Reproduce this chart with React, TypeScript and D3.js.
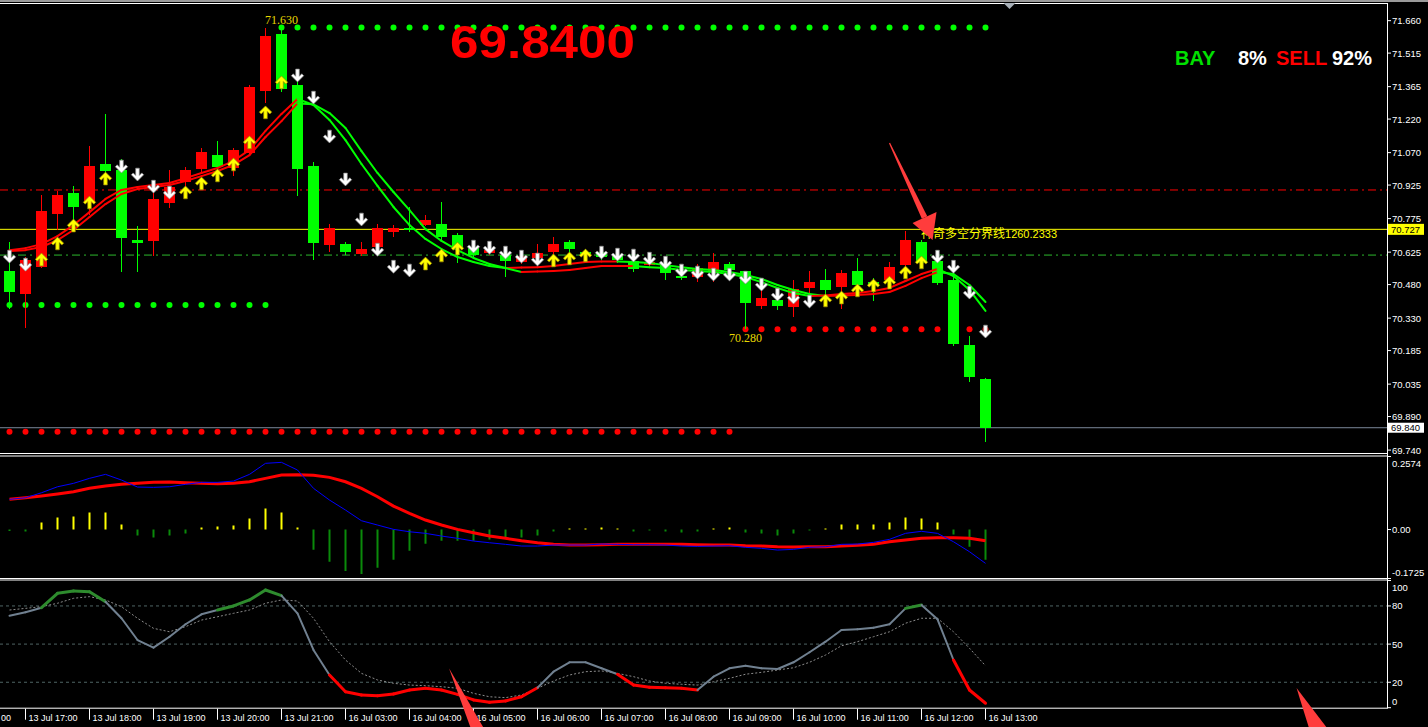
import * as d3 from "d3";

// ---- price bars (15 min) ----
const opens = [70.541, 70.438, 70.559, 70.796, 70.889, 70.845, 71.019, 70.992, 70.679, 70.675, 70.845, 70.939, 70.997, 71.059, 71.001, 71.068, 71.346, 71.601, 71.372, 71.01, 70.657, 70.661, 70.617, 70.648, 70.715, 70.733, 70.746, 70.751, 70.702, 70.643, 70.621, 70.612, 70.581, 70.599, 70.626, 70.67, 70.626, 70.626, 70.608, 70.585, 70.568, 70.568, 70.518, 70.514, 70.536, 70.572, 70.541, 70.384, 70.411, 70.38, 70.465, 70.5, 70.469, 70.541, 70.491, 70.5, 70.568, 70.67, 70.585, 70.5, 70.21, 70.058];
const highs = [70.67, 70.603, 70.881, 70.898, 70.921, 71.1, 71.243, 71.041, 70.742, 70.939, 70.992, 71.006, 71.091, 71.122, 71.091, 71.372, 71.627, 71.63, 71.408, 71.028, 70.751, 70.67, 70.67, 70.751, 70.746, 70.827, 70.791, 70.849, 70.711, 70.657, 70.648, 70.639, 70.621, 70.661, 70.693, 70.679, 70.639, 70.634, 70.626, 70.599, 70.594, 70.581, 70.559, 70.572, 70.621, 70.581, 70.541, 70.487, 70.456, 70.5, 70.541, 70.55, 70.545, 70.599, 70.509, 70.581, 70.719, 70.679, 70.634, 70.518, 70.25, 70.062];
const lows = [70.371, 70.286, 70.554, 70.724, 70.724, 70.791, 70.979, 70.536, 70.536, 70.608, 70.822, 70.916, 70.979, 70.992, 70.966, 71.059, 71.292, 71.341, 70.876, 70.59, 70.626, 70.612, 70.608, 70.639, 70.693, 70.715, 70.742, 70.675, 70.576, 70.599, 70.612, 70.514, 70.572, 70.576, 70.608, 70.621, 70.599, 70.59, 70.576, 70.536, 70.554, 70.5, 70.5, 70.491, 70.491, 70.5, 70.28, 70.371, 70.366, 70.335, 70.411, 70.42, 70.371, 70.456, 70.406, 70.482, 70.554, 70.563, 70.478, 70.205, 70.044, 69.776];
const closes = [70.447, 70.59, 70.809, 70.881, 70.827, 71.01, 70.988, 70.688, 70.666, 70.863, 70.916, 70.992, 71.073, 71.006, 71.082, 71.364, 71.592, 71.355, 70.997, 70.666, 70.733, 70.626, 70.639, 70.733, 70.733, 70.728, 70.769, 70.693, 70.643, 70.612, 70.634, 70.585, 70.608, 70.621, 70.661, 70.639, 70.617, 70.603, 70.59, 70.55, 70.581, 70.532, 70.509, 70.554, 70.581, 70.545, 70.397, 70.42, 70.384, 70.46, 70.491, 70.456, 70.532, 70.478, 70.473, 70.559, 70.679, 70.576, 70.487, 70.214, 70.067, 69.84];

// two smoothed averages
const maFast = [70.634, 70.643, 70.661, 70.697, 70.746, 70.804, 70.863, 70.903, 70.916, 70.925, 70.934, 70.956, 70.979, 71.001, 71.033, 71.082, 71.167, 71.243, 71.31, 71.283, 71.216, 71.126, 71.019, 70.921, 70.827, 70.746, 70.684, 70.639, 70.603, 70.581, 70.563, 70.554, 70.536, 70.539, 70.541, 70.545, 70.554, 70.563, 70.563, 70.563, 70.558, 70.554, 70.545, 70.541, 70.536, 70.527, 70.514, 70.491, 70.465, 70.442, 70.429, 70.431, 70.438, 70.442, 70.451, 70.465, 70.496, 70.527, 70.55, 70.518, 70.456, 70.362];
const maSlow = [70.63, 70.634, 70.648, 70.679, 70.724, 70.782, 70.84, 70.885, 70.907, 70.916, 70.925, 70.943, 70.965, 70.988, 71.015, 71.059, 71.14, 71.211, 71.29, 71.286, 71.247, 71.18, 71.077, 70.979, 70.894, 70.813, 70.728, 70.675, 70.634, 70.599, 70.572, 70.554, 70.556, 70.558, 70.563, 70.572, 70.581, 70.583, 70.583, 70.581, 70.576, 70.567, 70.558, 70.55, 70.545, 70.536, 70.523, 70.505, 70.478, 70.456, 70.438, 70.429, 70.431, 70.433, 70.438, 70.447, 70.474, 70.509, 70.536, 70.527, 70.478, 70.402];

// signal arrows: [bar, price]
const upArrows: [number, number][] = [[2, 70.594], [3, 70.666], [4, 70.746], [5, 70.849], [6, 70.956], [11, 70.894], [12, 70.934], [13, 70.97], [14, 71.019], [15, 71.118], [16, 71.252], [17, 71.386], [26, 70.576], [27, 70.612], [28, 70.643], [34, 70.59], [35, 70.599], [36, 70.612], [51, 70.411], [52, 70.424], [53, 70.456], [54, 70.478], [55, 70.491], [56, 70.536], [57, 70.581]];
const downArrows: [number, number][] = [[0, 70.603], [1, 70.567], [7, 71.006], [8, 70.97], [9, 70.916], [10, 70.889], [18, 71.413], [19, 71.314], [20, 71.14], [21, 70.948], [22, 70.769], [23, 70.634], [24, 70.558], [25, 70.541], [29, 70.648], [30, 70.643], [31, 70.621], [32, 70.603], [33, 70.59], [37, 70.621], [38, 70.612], [39, 70.608], [40, 70.594], [41, 70.576], [42, 70.541], [43, 70.532], [44, 70.523], [45, 70.523], [46, 70.509], [47, 70.478], [48, 70.433], [49, 70.42], [50, 70.402], [58, 70.603], [59, 70.558], [60, 70.442], [61, 70.268]];

// dotted support / resistance rows
const dotRows = [
  { from: 17, to: 61, price: 71.63, color: "#00ff00" },
  { from: 0, to: 16, price: 70.389, color: "#00ff00" },
  { from: 0, to: 45, price: 69.822, color: "#ff0000" },
  { from: 46, to: 61, price: 70.28, color: "#ff0000" },
];

const priceTicks = [71.66, 71.515, 71.365, 71.22, 71.07, 70.925, 70.775, 70.625, 70.48, 70.33, 70.185, 70.035, 69.89, 69.74];
const redLevel = 70.903;
const greenLevel = 70.612;
const boundaryLevel = 70.727;
const lastPrice = 69.84;

// MACD
const macdLine = [0.1064, 0.112, 0.1297, 0.1508, 0.1628, 0.1804, 0.1945, 0.1744, 0.1498, 0.1487, 0.1508, 0.1593, 0.1663, 0.1663, 0.1709, 0.1945, 0.2333, 0.2368, 0.2097, 0.1452, 0.1039, 0.0687, 0.031, 0.0159, 0.0007, -0.0078, -0.0134, -0.0229, -0.031, -0.0405, -0.0465, -0.0521, -0.0581, -0.0581, -0.0546, -0.0546, -0.0546, -0.0511, -0.0521, -0.0536, -0.0536, -0.0546, -0.0581, -0.0592, -0.0581, -0.0571, -0.0627, -0.0662, -0.0722, -0.0698, -0.0627, -0.0606, -0.0521, -0.0511, -0.0451, -0.0345, -0.0134, -0.0063, -0.0134, -0.043, -0.0782, -0.1191];
const signalLine = [0.1064, 0.112, 0.118, 0.1251, 0.1332, 0.1452, 0.1533, 0.1593, 0.1628, 0.1663, 0.1674, 0.1649, 0.1628, 0.1614, 0.1628, 0.1684, 0.1804, 0.192, 0.1931, 0.191, 0.1839, 0.1684, 0.1452, 0.1156, 0.0828, 0.0571, 0.0335, 0.0159, 0.0007, -0.0113, -0.0229, -0.031, -0.0395, -0.0465, -0.0521, -0.0546, -0.0546, -0.0536, -0.0521, -0.0521, -0.0521, -0.0521, -0.0521, -0.0536, -0.0546, -0.0546, -0.0571, -0.0581, -0.0606, -0.0617, -0.0606, -0.0606, -0.0581, -0.0557, -0.0521, -0.043, -0.037, -0.031, -0.0289, -0.0289, -0.031, -0.0395];
const macdHist = [-0.0053, -0.0071, 0.0249, 0.0426, 0.0462, 0.0604, 0.0604, 0.0178, -0.0213, -0.0284, -0.0213, -0.0142, 0.0071, 0.0107, 0.0142, 0.0391, 0.0746, 0.0604, 0.0071, -0.071, -0.1137, -0.1457, -0.1563, -0.135, -0.1066, -0.0746, -0.0497, -0.0391, -0.0391, -0.0391, -0.0355, -0.032, -0.0284, -0.0213, -0.0071, 0.0036, 0.0036, 0.0071, 0.0036, -0.0071, -0.0036, -0.0071, -0.0107, -0.0071, 0.0036, 0.0071, -0.0107, -0.0142, -0.0213, -0.0142, -0.0036, 0.0036, 0.0178, 0.0178, 0.0178, 0.0249, 0.0426, 0.0391, 0.0249, -0.0178, -0.0604, -0.1066];
const macdTicks = [0.2574, 0, -0.1725];
const macdTickLabels = ["0.2574", "0.00", "-0.1725"];

// Stochastic
const stochMain = [72.3, 75, 78.6, 89.9, 91.7, 91.2, 83.3, 70.3, 53.2, 47.2, 55.8, 65.6, 73.4, 76.8, 80, 84.7, 92.5, 88.1, 74.2, 45.4, 25.7, 12.6, 10, 9.4, 10.8, 13.9, 15.3, 13.9, 10.5, 6.1, 4.2, 5.3, 8.6, 15.7, 28.3, 35.7, 35.7, 31, 26.3, 17.8, 16, 15.7, 15.3, 13.9, 24.4, 31, 33, 31, 30.4, 35.7, 43.6, 51.9, 61.1, 61.6, 62.9, 65.6, 78.1, 80.7, 69.5, 37.5, 13.9, 3.5];
const stochSignal = [76.8, 78.1, 79.4, 82.1, 86, 87.3, 84.7, 79.4, 70.3, 62.4, 59.7, 63.7, 68.9, 71.5, 74.2, 76.8, 82.1, 84.7, 83.9, 70.3, 51.9, 37.5, 27, 21.8, 19.2, 17.8, 17.3, 16.5, 15.3, 11.3, 8.6, 7.9, 10, 15.3, 21, 25.7, 28.3, 28.9, 27, 24.4, 21, 19.2, 18.4, 17.8, 20.4, 23.1, 26.3, 27.8, 29.6, 31.4, 35.7, 41.4, 48.7, 51.9, 55.8, 59.7, 66.4, 70.3, 70.3, 59.7, 46.7, 33];
const stochZone = "nngggggnnnnnngggggnnrrrrrrrrrrrrrrnnnnrrrrrrnnnnnnnnnnnnggnrrr";
const stochLevels = [80, 50, 20];
const stochTicks = [100, 80, 50, 20, 0];

// time axis (the first label is only partly on screen: its tail "00" shows)
const timeBars = [1, 5, 9, 13, 17, 21, 25, 29, 33, 37, 41, 45, 49, 53, 57, 61];
const timeLabels = ["13 Jul 17:00", "13 Jul 18:00", "13 Jul 19:00", "13 Jul 20:00", "13 Jul 21:00", "16 Jul 03:00", "16 Jul 04:00", "16 Jul 05:00", "16 Jul 06:00", "16 Jul 07:00", "16 Jul 08:00", "16 Jul 09:00", "16 Jul 10:00", "16 Jul 11:00", "16 Jul 12:00", "16 Jul 13:00"];
const cutLabelTail = "00";

const W = 1428;
const H = 727;
const RIGHT = 1387;
const MAIN = { top: 3, bottom: 453 };
const MACD = { top: 456.5, bottom: 578.5 };
const STO = { top: 580.5, bottom: 707.7 };
const UP = "#ff0000";
const DN = "#00ff00";
const FONT = "Liberation Sans, Arial, sans-serif";

const ARROW = "M-1.8,-6.8 L1.8,-6.8 L1.8,0.4 L4.3,-2.1 L6.2,-0.2 L0,6 L-6.2,-0.2 L-4.3,-2.1 L-1.8,0.4 Z";

export default function App() {
  const x = d3.scaleLinear().domain([0, 61]).range([9.5, 985.5]);
  const yP = d3.scaleLinear().domain([69.727, 71.739]).range([MAIN.bottom, MAIN.top]);
  const yM = d3.scaleLinear().domain([-0.1725, 0.2574]).range([MACD.bottom, MACD.top]);
  const yS = d3.scaleLinear().domain([0, 100]).range([STO.bottom, STO.top]);

  const maSegs = (vals: number[], key: string) =>
    vals.slice(1).map((v, k) => (
      <line key={key + k} x1={x(k)} y1={yP(vals[k])} x2={x(k + 1)} y2={yP(v)}
        stroke={v >= vals[k] ? UP : DN} strokeWidth={2} strokeLinecap="round" />
    ));

  const macdPath = (vals: number[]) =>
    d3.line<number>().x((_, i) => x(i)).y((v) => yM(v))(vals) || "";
  const sigPath = d3.line<number>().x((_, i) => x(i)).y((v) => yS(v))(stochSignal) || "";

  // annotation arrow in the price pane (bar, price)
  const tail = [x(55), yP(71.113)];
  const hl = [x(56.44), yP(70.755)];
  const hr = [x(57.94), yP(70.805)];
  const tip = [x(57.69), yP(70.679)];
  const bm = [(hl[0] + hr[0]) / 2, (hl[1] + hr[1]) / 2];
  const dx = bm[0] - tail[0], dy = bm[1] - tail[1];
  const len = Math.hypot(dx, dy);
  const nx = -dy / len, ny = dx / len;
  const shaft = [
    [tail[0] - nx * 0.6, tail[1] - ny * 0.6],
    [tail[0] + nx * 0.6, tail[1] + ny * 0.6],
    [bm[0] + nx * 3, bm[1] + ny * 3],
    [bm[0] - nx * 3, bm[1] - ny * 3],
  ];
  const stoAnnots = [
    [[27.47, 31], [28.8, -15.2], [29.6, -15.2]],
    [[80.44, 15.5], [81.2, -15.2], [82.3, -15.2]],
  ];

  const clampLabel = (y: number, top: number, bottom: number) => Math.min(Math.max(y, top + 7), bottom - 6);

  return (
    <svg width={W} height={H} style={{ position: "fixed", left: 0, top: 0, display: "block" }} fontFamily={FONT}>
      <defs>
        <clipPath id="mainClip"><rect x={0} y={MAIN.top} width={RIGHT} height={MAIN.bottom - MAIN.top} /></clipPath>
        <clipPath id="macdClip"><rect x={0} y={MACD.top} width={RIGHT} height={MACD.bottom - MACD.top} /></clipPath>
        <clipPath id="stoClip"><rect x={0} y={STO.top} width={RIGHT} height={STO.bottom - STO.top} /></clipPath>
      </defs>
      <rect x={0} y={0} width={W} height={H} fill="#000" />

      {/* frames */}
      <line x1={0} x2={W} y1={1} y2={1} stroke="#9a9a9a" strokeWidth={2} />
      <line x1={0} x2={RIGHT} y1={3.5} y2={3.5} stroke="#fff" />
      <line x1={0} x2={RIGHT} y1={MAIN.bottom + 0.5} y2={MAIN.bottom + 0.5} stroke="#fff" />
      <line x1={0} x2={RIGHT} y1={MACD.top - 0.5} y2={MACD.top - 0.5} stroke="#fff" />
      <line x1={0} x2={RIGHT} y1={MACD.bottom} y2={MACD.bottom} stroke="#fff" />
      <line x1={0} x2={RIGHT} y1={STO.top - 0.5} y2={STO.top - 0.5} stroke="#fff" />
      <line x1={0} x2={RIGHT} y1={STO.bottom + 0.5} y2={STO.bottom + 0.5} stroke="#fff" />
      <line x1={RIGHT + 0.5} x2={RIGHT + 0.5} y1={3} y2={STO.bottom + 1} stroke="#fff" />
      <path d={`M${x(62.5) - 6},3 L${x(62.5) + 6},3 L${x(62.5)},9 Z`} fill="#a8b0b8" />

      {/* ---- price pane ---- */}
      <g clipPath="url(#mainClip)">
        <line x1={0} x2={RIGHT} y1={yP(redLevel)} y2={yP(redLevel)} stroke="#ff0000" strokeDasharray="8,4,2,4" />
        <line x1={0} x2={RIGHT} y1={yP(greenLevel)} y2={yP(greenLevel)} stroke="#2db82d" strokeDasharray="8,4,2,4" />
        <line x1={0} x2={RIGHT} y1={yP(boundaryLevel)} y2={yP(boundaryLevel)} stroke="#ffff00" />
        <line x1={0} x2={RIGHT} y1={yP(lastPrice)} y2={yP(lastPrice)} stroke="#7a8799" />

        {dotRows.map((r, k) =>
          d3.range(r.from, r.to + 1).map((i) => (
            <circle key={`d${k}-${i}`} cx={x(i)} cy={yP(r.price)} r={3} fill={r.color} />
          ))
        )}

        {opens.map((o, i) => {
          const c = closes[i];
          const col = c >= o ? UP : DN;
          const cx = Math.round(x(i) - 0.5) + 0.5;
          const yt = yP(Math.max(o, c));
          const yb = yP(Math.min(o, c));
          return (
            <g key={`c${i}`} shapeRendering="crispEdges">
              <line x1={cx} x2={cx} y1={yP(highs[i])} y2={yP(lows[i])} stroke={col} />
              <rect x={cx - 5.5} y={yt} width={11} height={Math.max(1.5, yb - yt)} fill={col} />
            </g>
          );
        })}

        {maSegs(maSlow, "s")}
        {maSegs(maFast, "f")}

        {upArrows.map(([i, p]) => (
          <path key={`u${i}`} d={ARROW} transform={`translate(${x(i)},${yP(p)}) scale(1,-1)`} fill="#ffff00" stroke="#9a8400" strokeWidth={0.7} />
        ))}
        {downArrows.map(([i, p]) => (
          <path key={`w${i}`} d={ARROW} transform={`translate(${x(i)},${yP(p)})`} fill="#ffffff" stroke="#8a8a8a" strokeWidth={0.7} />
        ))}

        <text x={x(17)} y={yP(71.63) - 3.5} textAnchor="middle" fontFamily="Liberation Serif, serif" fontSize={12} fill="#e8d800">71.630</text>
        <text x={x(46)} y={yP(70.28) + 12.5} textAnchor="middle" fontFamily="Liberation Serif, serif" fontSize={12} fill="#e8d800">70.280</text>

        <text x={921} y={yP(boundaryLevel) + 9} fill="#ffff00" fontSize={12}>
          <tspan fontFamily="Noto Sans CJK SC, sans-serif">神奇多空分界线</tspan>
          <tspan fontSize={11}>1260.2333</tspan>
        </text>

        <text x={450} y={58} fill="#ff0000" fontWeight="bold" fontSize={46} textLength={185} lengthAdjust="spacingAndGlyphs">69.8400</text>
        <g fontWeight="bold" fontSize={20}>
          <text x={1175} y={65} fill="#00e000">BAY</text>
          <text x={1238} y={65} fill="#fff">8%</text>
          <text x={1276} y={65} fill="#ff0000">SELL</text>
          <text x={1332} y={65} fill="#fff">92%</text>
        </g>
        <path d={`M${shaft.map((p) => p.join(",")).join(" L")} Z`} fill="#ff3c3c" />
        <path d={`M${hl.join(",")} L${hr.join(",")} L${tip.join(",")} Z`} fill="#ff3c3c" />
      </g>

      {/* price axis */}
      <g fontSize={9.5} fill="#fff">
        {priceTicks.map((t) => (
          <g key={`pt${t}`}>
            <line x1={RIGHT} x2={RIGHT + 4} y1={yP(t)} y2={yP(t)} stroke="#fff" />
            <text x={1392} y={yP(t) + 3.5}>{t.toFixed(3)}</text>
          </g>
        ))}
        <rect x={1388} y={yP(boundaryLevel) - 5.5} width={36} height={11} fill="#ffff00" />
        <text x={1391} y={yP(boundaryLevel) + 3.5} fill="#000">{boundaryLevel.toFixed(3)}</text>
        <rect x={1388} y={yP(lastPrice) - 5} width={36} height={10} fill="#fff" />
        <text x={1391} y={yP(lastPrice) + 3.5} fill="#000">{lastPrice.toFixed(3)}</text>
      </g>

      {/* ---- MACD pane ---- */}
      <g clipPath="url(#macdClip)">
        {macdHist.map((v, i) => (
          <line key={`h${i}`} x1={x(i)} x2={x(i)} y1={yM(0)} y2={yM(v)} stroke={v >= 0 ? "#ffff00" : "#0a8a0a"} strokeWidth={2} />
        ))}
        <path d={macdPath(signalLine)} fill="none" stroke="#ff0000" strokeWidth={3} />
        <path d={macdPath(macdLine)} fill="none" stroke="#0000ff" strokeWidth={1} />
      </g>
      <g fontSize={9.5} fill="#fff">
        {macdTicks.map((t, k) => (
          <g key={`mt${k}`}>
            <line x1={RIGHT} x2={RIGHT + 4} y1={yM(t)} y2={yM(t)} stroke="#fff" />
            <text x={1392} y={clampLabel(yM(t), MACD.top, MACD.bottom) + 3.5}>{macdTickLabels[k]}</text>
          </g>
        ))}
      </g>

      {/* ---- Stochastic pane ---- */}
      <g clipPath="url(#stoClip)">
        {stochLevels.map((l) => (
          <line key={`sl${l}`} x1={0} x2={RIGHT} y1={yS(l)} y2={yS(l)} stroke="#4f6464" strokeDasharray="3,3" />
        ))}
        <path d={sigPath} fill="none" stroke="#8c8c8c" strokeWidth={1} strokeDasharray="2,2" />
        {stochMain.slice(1).map((v, k) => {
          const a = stochZone[k], b = stochZone[k + 1];
          const col = a === b && a === "g" ? "#2e8b2e" : a === b && a === "r" ? "#ff0000" : "#708090";
          return (
            <line key={`sm${k}`} x1={x(k)} y1={yS(stochMain[k])} x2={x(k + 1)} y2={yS(v)}
              stroke={col} strokeWidth={col === "#708090" ? 2 : 3} strokeLinecap="round" />
          );
        })}
      </g>
      <g fontSize={9.5} fill="#fff">
        {stochTicks.map((t) => (
          <g key={`st${t}`}>
            <line x1={RIGHT} x2={RIGHT + 4} y1={yS(t)} y2={yS(t)} stroke="#fff" />
            <text x={1392} y={clampLabel(yS(t), STO.top, STO.bottom) + 3.5}>{t}</text>
          </g>
        ))}
      </g>

      {/* time axis */}
      <g fontSize={9} fill="#fff">
        <text x={1} y={721}>{cutLabelTail}</text>
        {timeBars.map((b, k) => (
          <g key={`tl${k}`}>
            <line x1={x(b)} x2={x(b)} y1={STO.bottom + 1} y2={STO.bottom + 12} stroke="#fff" />
            <text x={x(b) + 3} y={721}>{timeLabels[k]}</text>
          </g>
        ))}
      </g>

      {/* annotation strokes */}
      {stoAnnots.map((pts, k) => (
        <path key={`an${k}`} d={`M${pts.map(([b, v]) => `${x(b)},${yS(v)}`).join(" L")} Z`} fill="#ff3c3c" />
      ))}
    </svg>
  );
}
